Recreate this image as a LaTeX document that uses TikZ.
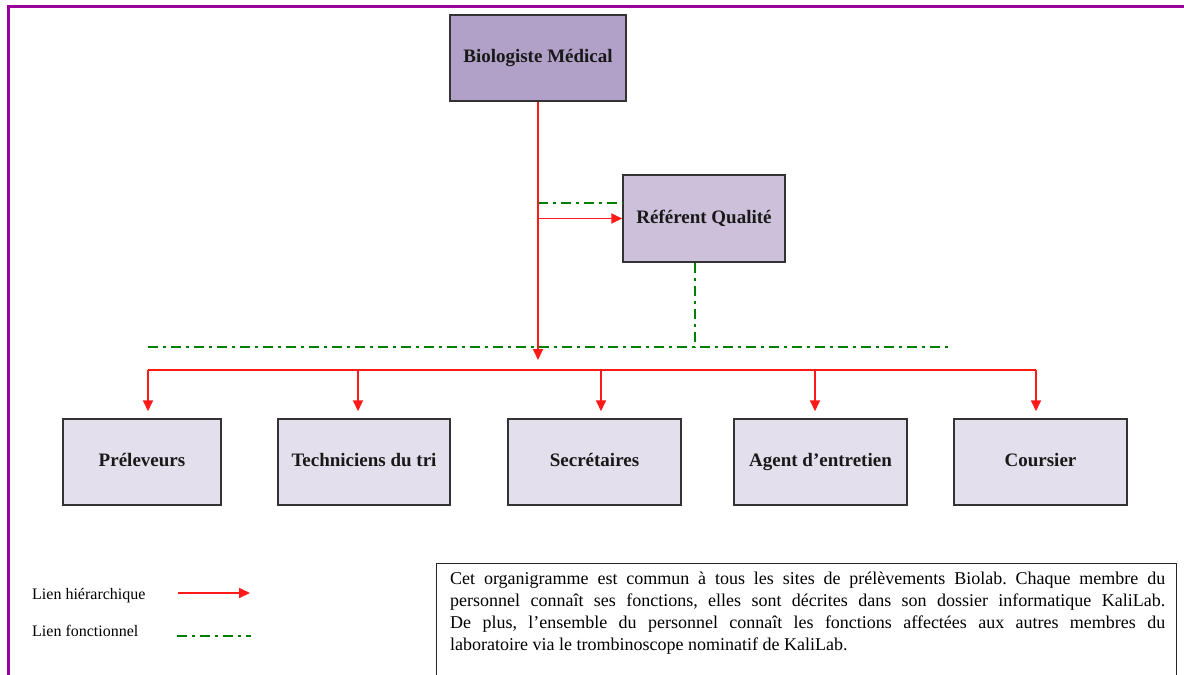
\documentclass[tikz,border=0pt]{standalone}
\usepackage{fontspec}
\setmainfont{Liberation Serif}
\usetikzlibrary{arrows.meta,calc}
\definecolor{framepurple}{HTML}{990099}
\definecolor{biofill}{HTML}{B1A0C7}
\definecolor{reffill}{HTML}{CCC0DA}
\definecolor{rolefill}{HTML}{E4DFEC}
\definecolor{hierred}{HTML}{FF1A1A}
\definecolor{fonctgreen}{HTML}{008000}
\tikzset{
  orgbox/.style={draw=black!80, line width=1.5pt, inner sep=0pt,
    text height=13pt, text depth=4pt,
    font=\bfseries\fontsize{19}{22}\selectfont, text=black!90},
  rolebox/.style={orgbox, fill=rolefill, minimum height=86pt},
  hier/.style={draw=hierred, line width=1.8pt, -{Triangle[length=11pt,width=10pt]}},
  hierline/.style={draw=hierred, line width=1.8pt},
  fonct/.style={draw=fonctgreen, line width=2.8pt, dash pattern=on 10pt off 5pt on 3pt off 5pt},
  legendtext/.style={anchor=base west, inner sep=0pt, font=\fontsize{16}{19}\selectfont},
}
\begin{document}
\frenchspacing
\begin{tikzpicture}[x=1pt,y=-1pt]
\clip (0,0) rectangle (1184,675);
\fill[white] (0,0) rectangle (1184,675);
% frame
\draw[framepurple, line width=3pt] (8,680) -- (8,6) -- (1190,6);

% boxes
\node[orgbox, fill=biofill, minimum width=176pt, minimum height=86pt] (bio) at (538,58) {Biologiste Médical};
\node[orgbox, fill=reffill, minimum width=162pt, minimum height=87pt] (ref) at (704,218.5) {Référent Qualité};
\node[rolebox, minimum width=158pt] (pre) at (142,462) {Préleveurs};
\node[rolebox, minimum width=172pt] (tec) at (364,462) {Techniciens du tri};
\node[rolebox, minimum width=173pt] (sec) at (594.5,462) {Secrétaires};
\node[rolebox, minimum width=173pt] (age) at (820.5,462) {Agent d’entretien};
\node[rolebox, minimum width=173pt] (cou) at (1040.5,462) {Coursier};

% coordinates
\coordinate (hjoin) at (538,360);
\coordinate (rarr) at (538,218.5);
\coordinate (gtop) at (538,203);
\coordinate (gdown) at (695,347);
\coordinate (gl) at (148,347);
\coordinate (gr) at (950,347);
\coordinate (busL) at (148,370);
\coordinate (busR) at (1036,370);
\coordinate (d1) at (148,370);
\coordinate (d2) at (358,370);
\coordinate (d3) at (601,370);
\coordinate (d4) at (815,370);
\coordinate (d5) at (1036,370);

% functional links
\draw[fonct] (gtop) -- (gtop -| ref.west);
\draw[fonct] (gdown |- ref.south) -- (gdown);
\draw[fonct] (gl) -- (gr);

% hierarchical links
\draw[hier] (bio.south) -- (hjoin);
\draw[hier] (rarr) -- (ref.west);
\draw[hierline] (busL) -- (busR);
\draw[hier, shorten >=7pt] (d1) -- (d1 |- pre.north);
\draw[hier, shorten >=7pt] (d2) -- (d2 |- tec.north);
\draw[hier, shorten >=7pt] (d3) -- (d3 |- sec.north);
\draw[hier, shorten >=7pt] (d4) -- (d4 |- age.north);
\draw[hier, shorten >=7pt] (d5) -- (d5 |- cou.north);

% legend
\node[legendtext] (lh) at (32,599) {Lien hiérarchique};
\node[legendtext] (lf) at (32,636) {Lien fonctionnel};
\coordinate (lha) at (178,593);
\coordinate (lhb) at (250,593);
\coordinate (lfa) at (177,636);
\coordinate (lfb) at (251,636);
\draw[hier] (lha) -- (lhb);
\draw[fonct] (lfa) -- (lfb);

% note
\node[draw=black!85, line width=1.2pt, anchor=north west, minimum width=740pt, minimum height=130pt, inner sep=0pt] (notebox) at (436,563) {};
\node[anchor=north west, text width=715pt, align=justify, inner sep=0pt,
  font=\fontsize{18}{22}\selectfont] (note) at ([xshift=14pt,yshift=-9pt]notebox.north west)
{Cet organigramme est commun à tous les sites de prélèvements Biolab. Chaque membre du\linebreak
personnel connaît ses fonctions, elles sont décrites dans son dossier informatique KaliLab.\linebreak
De plus, l’ensemble du personnel connaît les fonctions affectées aux autres membres du\linebreak
laboratoire via le trombinoscope nominatif de KaliLab.};
\end{tikzpicture}
\end{document}
